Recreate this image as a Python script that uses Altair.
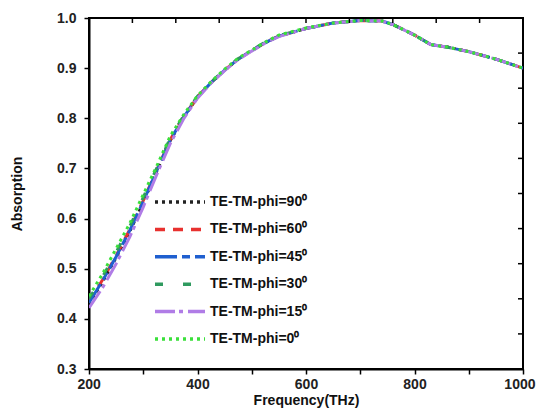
import altair as alt
import pandas as pd

freq = [200, 225, 250, 275, 300, 325, 350, 375, 400, 425, 450, 475, 500, 525, 550,
        600, 650, 700, 740, 760, 800, 830, 860, 900, 950, 1000]

phi90 = [0.430, 0.474, 0.522, 0.574, 0.632, 0.695, 0.756, 0.803, 0.842, 0.871, 0.896, 0.918, 0.935, 0.951, 0.964,
         0.979, 0.990, 0.995, 0.994, 0.987, 0.966, 0.947, 0.942, 0.933, 0.918, 0.900]
phi60 = [0.434, 0.478, 0.526, 0.578, 0.636, 0.697, 0.758, 0.804, 0.843, 0.871, 0.896, 0.918, 0.935, 0.951, 0.964,
         0.979, 0.990, 0.995, 0.994, 0.987, 0.966, 0.947, 0.942, 0.933, 0.918, 0.900]
phi45 = [0.432, 0.476, 0.524, 0.576, 0.634, 0.696, 0.757, 0.803, 0.842, 0.871, 0.896, 0.918, 0.935, 0.951, 0.964,
         0.979, 0.990, 0.995, 0.994, 0.987, 0.966, 0.947, 0.942, 0.933, 0.918, 0.900]
phi30 = [0.440, 0.484, 0.533, 0.584, 0.642, 0.701, 0.761, 0.806, 0.844, 0.872, 0.897, 0.919, 0.936, 0.952, 0.965,
         0.979, 0.990, 0.995, 0.994, 0.987, 0.966, 0.947, 0.942, 0.933, 0.918, 0.900]
phi15 = [0.422, 0.462, 0.510, 0.563, 0.623, 0.688, 0.750, 0.800, 0.840, 0.870, 0.895, 0.917, 0.934, 0.950, 0.963,
         0.979, 0.990, 0.995, 0.994, 0.987, 0.966, 0.947, 0.942, 0.933, 0.918, 0.900]
phi0 = [0.445, 0.490, 0.540, 0.590, 0.648, 0.705, 0.765, 0.808, 0.845, 0.873, 0.898, 0.920, 0.936, 0.952, 0.966,
        0.980, 0.990, 0.995, 0.994, 0.987, 0.966, 0.947, 0.942, 0.933, 0.918, 0.900]

series_names = ["TE-TM-phi=90⁰", "TE-TM-phi=60⁰", "TE-TM-phi=45⁰",
                "TE-TM-phi=30⁰", "TE-TM-phi=15⁰", "TE-TM-phi=0⁰"]
series_values = [phi90, phi60, phi45, phi30, phi15, phi0]
colors = ["#222222", "#e8312f", "#1f5fcf", "#2f9a5f", "#b07ce6", "#3ae03a"]
dashes = [[3, 4], [10, 8], [22, 5, 8, 5], [8, 20], [20, 4, 4, 5], [3, 4]]

x_ticks = [200, 300, 400, 500, 600, 700, 800, 900, 1000]
y_ticks = [0.3, 0.35, 0.4, 0.45, 0.5, 0.55, 0.6, 0.65, 0.7, 0.75, 0.8, 0.85, 0.9, 0.95, 1.0]
top_ticks = [280, 360, 440, 520, 600, 680, 760, 840, 920]
right_ticks = [0.93, 0.86, 0.79, 0.72, 0.65, 0.58, 0.51, 0.44, 0.37]

rows = []
for name, vals in zip(series_names, series_values):
    for f, v in zip(freq, vals):
        rows.append({"freq": f, "abs": v, "series": name})
df = pd.DataFrame(rows)
top_df = pd.DataFrame({"freq": top_ticks})
right_df = pd.DataFrame({"abs": right_ticks})

x_scale = alt.Scale(domain=[200, 1000], nice=False, zero=False)
y_scale = alt.Scale(domain=[0.3, 1.0], nice=False, zero=False)

legend = alt.Legend(
    title=None, orient="none", legendX=64, legendY=177,
    symbolSize=2500, symbolStrokeWidth=3.5, symbolType="stroke", clipHeight=14,
    labelFont="Liberation Sans", labelFontSize=14, labelFontWeight="bold",
    labelColor="#111", labelOffset=3, rowPadding=13.4, padding=0, labelLimit=300,
)

lines = alt.Chart(df).mark_line(strokeWidth=3, clip=True).encode(
    x=alt.X("freq:Q", scale=x_scale,
            axis=alt.Axis(values=x_ticks, title="Frequency(THz)", grid=False, format="d",
                          labelExpr="datum.value % 200 == 0 ? datum.label : ''",
                          labelFlush=True, labelFlushOffset=12, labelOverlap=False,
                          tickSize=5, labelPadding=3, titlePadding=2)),
    y=alt.Y("abs:Q", scale=y_scale,
            axis=alt.Axis(values=y_ticks, title="Absorption", grid=False,
                          labelExpr="abs(datum.value*10 - round(datum.value*10)) < 0.001 ? format(datum.value, '.1f') : ''",
                          labelFlush=False, labelOverlap=False,
                          tickSize=5, labelPadding=8, titlePadding=32)),
    color=alt.Color("series:N", scale=alt.Scale(domain=series_names, range=colors),
                    sort=series_names, legend=legend),
    strokeDash=alt.StrokeDash("series:N", scale=alt.Scale(domain=series_names, range=dashes),
                              sort=series_names, legend=legend),
)

top_ticks_layer = alt.Chart(top_df).mark_rule(color="black", strokeWidth=1.5).encode(
    x=alt.X("freq:Q", scale=x_scale),
    y=alt.value(0), y2=alt.value(5),
)
right_ticks_layer = alt.Chart(right_df).mark_rule(color="black", strokeWidth=1.5).encode(
    y=alt.Y("abs:Q", scale=y_scale),
    x=alt.value(429), x2=alt.value(434),
)

chart = alt.layer(lines, top_ticks_layer, right_ticks_layer).properties(
    width=434, height=351,
    autosize=alt.AutoSizeParams(type="none"),
    padding={"left": 81, "top": 10, "right": 13, "bottom": 41},
).configure_view(
    stroke="black", strokeWidth=2
).configure_axis(
    labelFont="Liberation Sans", labelFontSize=14, labelFontWeight="bold", labelColor="#222",
    titleFont="Liberation Sans", titleFontSize=14, titleFontWeight="bold", titleColor="#111",
    domainColor="black", domainWidth=2, tickColor="black", tickWidth=1.5,
)

chart.save("out.html", embed_options={"renderer": "svg", "actions": False})
